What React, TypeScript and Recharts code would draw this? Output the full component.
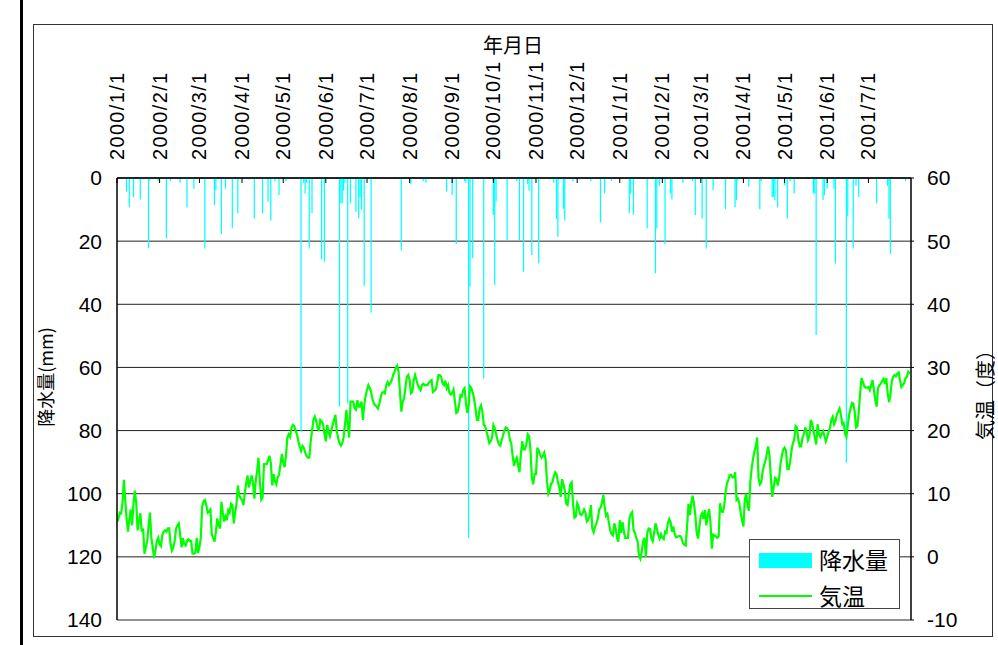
import React from "react";
import { ComposedChart, Bar, Line, XAxis, YAxis, CartesianGrid, Legend } from "recharts";

const LATIN = "'Liberation Sans', Arial, sans-serif";
const CJK = "'Noto Sans CJK JP', 'Liberation Sans', sans-serif";

// month start labels along the top axis
const monthLabels = [
  "2000/1/1", "2000/2/1", "2000/3/1", "2000/4/1", "2000/5/1", "2000/6/1",
  "2000/7/1", "2000/8/1", "2000/9/1", "2000/10/1", "2000/11/1", "2000/12/1",
  "2001/1/1", "2001/2/1", "2001/3/1", "2001/4/1", "2001/5/1", "2001/6/1",
  "2001/7/1",
];

const rainTicks = [0, 20, 40, 60, 80, 100, 120, 140];
const tempTicks = [-10, 0, 10, 20, 30, 40, 50, 60];

// daily mean temperature (deg C), from 2000/1/1
const tempC = [
  5.5, 6.0, 7.0, 6.9, 8.5, 12.2, 9.0, 6.0, 4.0, 6.0,
  7.5, 5.0, 8.5, 10.5, 8.5, 4.2, 5.5, 6.9, 4.0, 4.5,
  0.5, 1.5, 2.5, 5.0, 7.0, 3.0, 1.5, -0.2, 1.0, 2.5,
  3.0, 2.0, 1.7, 3.5, 4.0, 4.2, 4.0, 4.5, 4.5, 2.0,
  1.0, 1.5, 2.5, 4.5, 5.0, 5.3, 3.5, 1.5, 3.0, 2.0,
  1.8, 2.5, 2.8, 2.5, 2.5, 0.5, 0.5, 0.6, 3.0, 0.6,
  1.5, 3.0, 8.0, 8.8, 9.0, 8.2, 7.0, 7.2, 7.5, 3.5,
  3.0, 2.4, 4.0, 6.1, 5.0, 4.5, 8.7, 7.0, 5.6, 6.4,
  5.8, 7.4, 7.0, 8.4, 8.2, 5.3, 7.0, 8.4, 11.3, 9.7,
  9.3, 9.0, 8.2, 10.0, 11.6, 12.9, 11.0, 12.0, 12.9, 11.8,
  9.2, 12.0, 13.6, 15.7, 12.0, 9.1, 9.5, 14.7, 14.7,
  14.7, 15.3, 16.0, 14.9, 11.3, 13.1, 12.0, 11.5, 12.6, 13.0,
  14.7, 16.3, 15.0, 14.2, 16.0, 18.9, 19.4, 19.0, 20.4, 20.9,
  20.7, 20.0, 19.4, 18.3, 17.5, 16.8, 17.6, 17.3, 16.5, 16.0,
  15.7, 15.7, 18.3, 20.0, 21.7, 22.2, 21.5, 20.5, 19.9, 21.7,
  21.5, 21.0, 19.5, 18.3, 20.9, 19.8, 19.1, 20.0, 20.9, 21.7,
  22.5, 19.9, 18.8, 18.0, 17.6, 18.0, 19.0, 21.0, 23.3, 21.0,
  18.9, 24.6, 24.6, 24.6, 23.5, 23.3, 24.8, 23.8, 23.8, 24.6,
  21.7, 24.1, 25.5, 26.5, 27.2, 26.7, 26.1, 25.0, 24.3, 24.0,
  23.8, 23.5, 24.3, 25.3, 26.0, 26.1, 25.9, 27.2, 27.7, 27.2,
  27.5, 28.0, 28.8, 29.3, 30.0, 30.3, 29.3, 26.0, 23.0, 24.6,
  25.1, 26.9, 28.5, 28.8, 28.0, 25.9, 26.1, 28.0, 28.8, 28.0,
  27.2, 26.8, 26.4, 27.2, 27.4, 27.2, 27.2, 27.2, 27.6, 27.8,
  28.0, 26.1, 26.3, 26.5, 27.5, 28.8, 28.8, 28.5, 27.5, 27.2,
  27.9, 26.7, 27.2, 26.0, 25.7, 26.0, 26.5, 24.6, 22.8, 23.0,
  24.0, 25.6, 25.4, 26.4, 26.7, 24.5, 22.8, 24.0, 27.0, 26.7,
  26.0, 25.0, 23.5, 21.7, 21.7, 23.5, 24.0, 23.0, 20.9, 20.7,
  19.8, 19.0, 18.0, 18.3, 18.9, 20.9, 20.4, 19.4, 18.5, 17.8,
  17.6, 18.5, 19.2, 20.0, 20.5, 20.4, 20.0, 18.5, 18.0, 16.0,
  14.4, 15.2, 15.7, 14.5, 13.4, 16.3, 18.3, 17.0, 17.0, 17.8,
  19.4, 19.1, 17.0, 12.5, 11.5, 13.1, 13.1, 17.3, 16.8,
  16.2, 15.7, 16.0, 16.5, 15.5, 12.0, 10.0, 10.5, 11.6, 11.8,
  12.8, 13.4, 13.1, 11.8, 11.0, 9.5, 12.3, 11.5, 10.5, 8.4,
  8.2, 10.0, 11.5, 11.8, 8.4, 6.2, 6.4, 8.5, 8.0, 6.8,
  6.6, 6.9, 7.5, 7.0, 5.6, 5.8, 6.6, 8.2, 4.5, 3.9,
  4.8, 5.3, 6.0, 7.5, 7.8, 8.5, 9.8, 7.9, 6.5, 6.8,
  5.5, 4.2, 3.6, 3.4, 5.3, 4.5, 3.0, 2.4, 5.8, 3.8,
  5.5, 4.0, 3.0, 3.0, 3.0, 6.0, 6.8, 7.1, 4.3, 3.8,
  3.0, 2.4, 0.2, -0.3, 0.8, 2.5, 3.0, 0.0, 3.8, 4.5,
  4.4, 3.0, 2.5, 3.8, 5.3, 4.5, 3.5, 2.9, 3.6, 3.0,
  2.8, 4.0, 3.8, 5.3, 6.0, 5.5, 4.0, 4.8, 3.6, 3.1,
  3.2, 3.3, 3.3, 2.9, 2.2, 1.9, 1.8, 4.8, 8.4, 6.6,
  8.5, 9.7, 8.5, 6.6, 3.8, 2.9, 4.8, 6.5, 6.9, 6.0,
  7.4, 5.0, 6.5, 7.6, 5.5, 1.3, 3.5, 3.4, 3.2, 3.0,
  3.3, 8.5, 7.2, 7.1, 8.0, 10.2, 11.6, 12.2, 13.0, 13.0,
  12.6, 12.6, 13.4, 9.0, 9.2, 8.5, 7.0, 5.8, 4.8, 9.0,
  10.0, 8.2, 7.3, 11.8, 14.0, 15.5, 16.7, 17.5, 18.9, 12.5,
  11.5, 11.8, 13.5, 14.5, 15.2, 16.3, 17.5, 16.0, 12.5, 9.5,
  11.0, 12.5, 12.3, 11.3, 12.5, 14.7, 16.0, 17.0, 17.3, 16.8,
  13.9, 13.9, 15.0, 16.8, 18.0, 18.6, 20.7, 20.5, 18.5, 17.5,
  17.5, 18.9, 19.4, 20.5, 19.8, 18.5, 19.0, 21.7, 21.2, 20.0,
  18.9, 17.8, 21.0, 19.4, 19.0, 19.5, 19.9, 19.1, 18.3,
  19.0, 19.8, 20.4, 21.7, 22.2, 21.0, 21.5, 22.5, 23.0, 23.5,
  22.5, 21.0, 21.2, 19.5, 19.0, 20.9, 22.5, 23.5, 24.4, 24.3,
  23.0, 20.5, 20.7, 23.0, 26.0, 28.3, 27.7, 27.0, 26.8, 26.8,
  26.9, 26.4, 27.2, 28.0, 26.5, 24.8, 23.8, 26.7, 27.2, 27.4,
  27.9, 28.2, 27.4, 28.3, 26.0, 24.5, 25.5, 27.8, 28.5, 28.8,
  28.6, 29.0, 29.2, 28.0, 26.9, 27.2, 27.5, 28.3, 28.5, 29.3,
  29.0,
];

// rainy days (day number from 2000/1/1) and daily precipitation (mm)
const rainDays = [
  7, 9, 12, 17, 19, 23, 24, 30, 36, 39, 46, 51, 56, 64, 71, 72, 76, 79, 84, 88,
  96, 100, 106, 110, 112, 115, 118, 123, 124, 134, 136, 137, 138, 140, 142, 149, 151, 162, 163, 164,
  165, 166, 168, 170, 174, 176, 177, 178, 180, 185, 207, 214, 223, 225, 240, 244, 247, 253, 254, 256,
  257, 259, 267, 274, 275, 276, 284, 291, 293, 296, 299, 300, 302, 307, 315, 318, 320, 321, 325, 326,
  332, 337, 345, 352, 355, 360, 373, 374, 376, 386, 392, 393, 395, 399, 403, 404, 412, 419, 421, 426,
  429, 434, 443, 450, 451, 452, 460, 468, 469, 477, 478, 479, 481, 486, 488, 490, 493, 507, 508, 509,
  514, 515, 517, 522, 523, 531, 532, 536, 538, 540, 553, 561, 562, 563, 574,
];
const rainMm = [
  4.3, 9.3, 6.1, 6.8, 0.5, 22.3, 0.8, 1, 19.1, 1, 1.5, 9.3, 3.4, 22.3, 8.6, 3.9, 17.7, 3.4, 15.9, 11.2,
  0.5, 12.8, 11.2, 7.5, 13.5, 1, 5.4, 1, 0.5, 80.4, 1.5, 4.9, 1.5, 22.3, 11.2, 25.8, 26.5, 72.4, 8, 8,
  4, 1.5, 71.4, 8, 10.7, 12.8, 6, 10, 34.2, 42.7, 23, 2, 1, 1.5, 4.3, 5.4, 20.9, 1, 1.5, 114.1,
  34.4, 25.4, 63.5, 11.7, 33.9, 7.5, 19.8, 1, 19.6, 29.7, 2, 4, 24.4, 27, 0.5, 1.5, 13, 18.6, 9.8, 13.5,
  1, 0.5, 1, 14.1, 4.9, 1, 11.2, 5, 11.7, 15.9, 30.2, 15.9, 2.5, 20.9, 4.9, 6.8, 1.5, 1, 11.7, 12.8,
  22.3, 3.9, 9.9, 9.3, 7, 0.8, 2.8, 9.9, 1, 6.1, 6.1, 7, 9.3, 2.3, 12.8, 1, 4.9, 4.9, 4.9, 49.7,
  7, 5.5, 3.4, 3.4, 27, 90.2, 12, 22.3, 2.5, 6, 8, 2.5, 12.8, 24.1, 1,
];

const DAY_MS = 86400000;
const startMs = Date.UTC(2000, 0, 1);
const dayOf = (label: string) => {
  const [y, m, d] = label.split("/").map(Number);
  return Math.round((Date.UTC(y, m - 1, d) - startMs) / DAY_MS);
};
const monthTicks = monthLabels.map(dayOf);
const labelByDay: Record<number, string> = {};
monthLabels.forEach((l) => (labelByDay[dayOf(l)] = l));

const data = tempC.map((t, i) => ({ day: i, temp: t, rain: undefined as number | undefined }));
rainDays.forEach((d, i) => {
  if (data[d]) data[d].rain = rainMm[i];
});

const MonthTick = (props: any) => {
  const { x, y, payload } = props;
  const label = labelByDay[payload.value] || "";
  return (
    <text
      x={x}
      y={y}
      transform={`rotate(-90 ${x} ${y})`}
      textAnchor="start"
      dominantBaseline="central"
      fontSize={20}
      fontFamily={LATIN}
      fill="#000"
      textLength={label.length * 10.9}
      lengthAdjust="spacing"
    >
      {label}
    </text>
  );
};

const renderLegend = () => (
  <div
    style={{
      position: "relative",
      width: 151,
      height: 70,
      border: "1px solid #444",
      background: "#fff",
      boxSizing: "border-box",
      fontFamily: CJK,
      fontSize: 23,
      color: "#000",
    }}
  >
    <div style={{ position: "absolute", left: 9, top: 13, width: 53, height: 15, background: "#00FFFF" }} />
    <div style={{ position: "absolute", left: 69, top: 4, lineHeight: "30px" }}>降水量</div>
    <div style={{ position: "absolute", left: 9, top: 55, width: 53, height: 2, background: "#00FF00" }} />
    <div style={{ position: "absolute", left: 69, top: 40, lineHeight: "30px" }}>気温</div>
  </div>
);

export default function App() {
  return (
    <div style={{ position: "absolute", left: 0, top: 0, width: 998, height: 645, background: "#fff" }}>
      <div style={{ position: "absolute", left: 20, top: 0, width: 3, height: 645, background: "#000" }} />
      <div style={{ position: "absolute", left: 33, top: 24, width: 960, height: 613, border: "1px solid #333", boxSizing: "border-box" }} />
      <div
        style={{
          position: "absolute", left: 483, top: 32, width: 60, textAlign: "center",
          fontFamily: CJK, fontSize: 20, lineHeight: "26px", color: "#000",
        }}
      >
        年月日
      </div>
      <div
        style={{
          position: "absolute", left: 45, top: 377, transform: "translate(-50%, -50%) rotate(-90deg)",
          fontFamily: CJK, fontSize: 18, whiteSpace: "nowrap", color: "#000",
        }}
      >
        降水量(mm)
      </div>
      <div
        style={{
          position: "absolute", left: 984, top: 390, transform: "translate(-50%, -50%) rotate(-90deg)",
          fontFamily: CJK, fontSize: 20, whiteSpace: "nowrap", color: "#000",
        }}
      >
        気温（度）
      </div>
      <div style={{ position: "absolute", left: 0, top: 0 }}>
        <ComposedChart
          width={998}
          height={645}
          data={data}
          margin={{ top: 58, right: 27, bottom: 25, left: 57 }}
        >
          <CartesianGrid yAxisId="rain" vertical={false} stroke="#222" strokeWidth={1} />
          <XAxis
            dataKey="day"
            type="number"
            orientation="top"
            domain={[0, 578]}
            ticks={monthTicks}
            interval={0}
            height={120}
            tick={<MonthTick />}
            tickSize={-5}
            tickMargin={23}
            tickLine={{ stroke: "#000" }}
            axisLine={{ stroke: "#000", strokeWidth: 1.5 }}
            allowDataOverflow
          />
          <YAxis
            yAxisId="rain"
            orientation="left"
            reversed
            domain={[0, 140]}
            ticks={rainTicks}
            interval={0}
            width={60}
            tickSize={0}
            tickMargin={15}
            tick={{ fontSize: 21, fontFamily: LATIN, fill: "#000" }}
            axisLine={{ stroke: "#000", strokeWidth: 1.5 }}
          />
          <YAxis
            yAxisId="temp"
            orientation="right"
            domain={[-10, 60]}
            ticks={tempTicks}
            interval={0}
            width={60}
            tickSize={3}
            tickMargin={13}
            tick={{ fontSize: 21, fontFamily: LATIN, fill: "#000", textAnchor: "start" }}
            tickLine={{ stroke: "#000" }}
            axisLine={{ stroke: "#000", strokeWidth: 1.5 }}
          />
          <Bar
            yAxisId="rain"
            dataKey="rain"
            name="降水量"
            fill="#00FFFF"
            barSize={3}
            isAnimationActive={false}
          />
          <Line
            yAxisId="temp"
            dataKey="temp"
            name="気温"
            type="linear"
            stroke="#00FF00"
            strokeWidth={2.2}
            dot={false}
            activeDot={false}
            isAnimationActive={false}
          />
          <Legend
            layout="horizontal"
            verticalAlign="middle"
            align="center"
            content={renderLegend}
            wrapperStyle={{ position: "absolute", left: 749, top: 539, width: 151, height: 70 }}
          />
        </ComposedChart>
      </div>
    </div>
  );
}
